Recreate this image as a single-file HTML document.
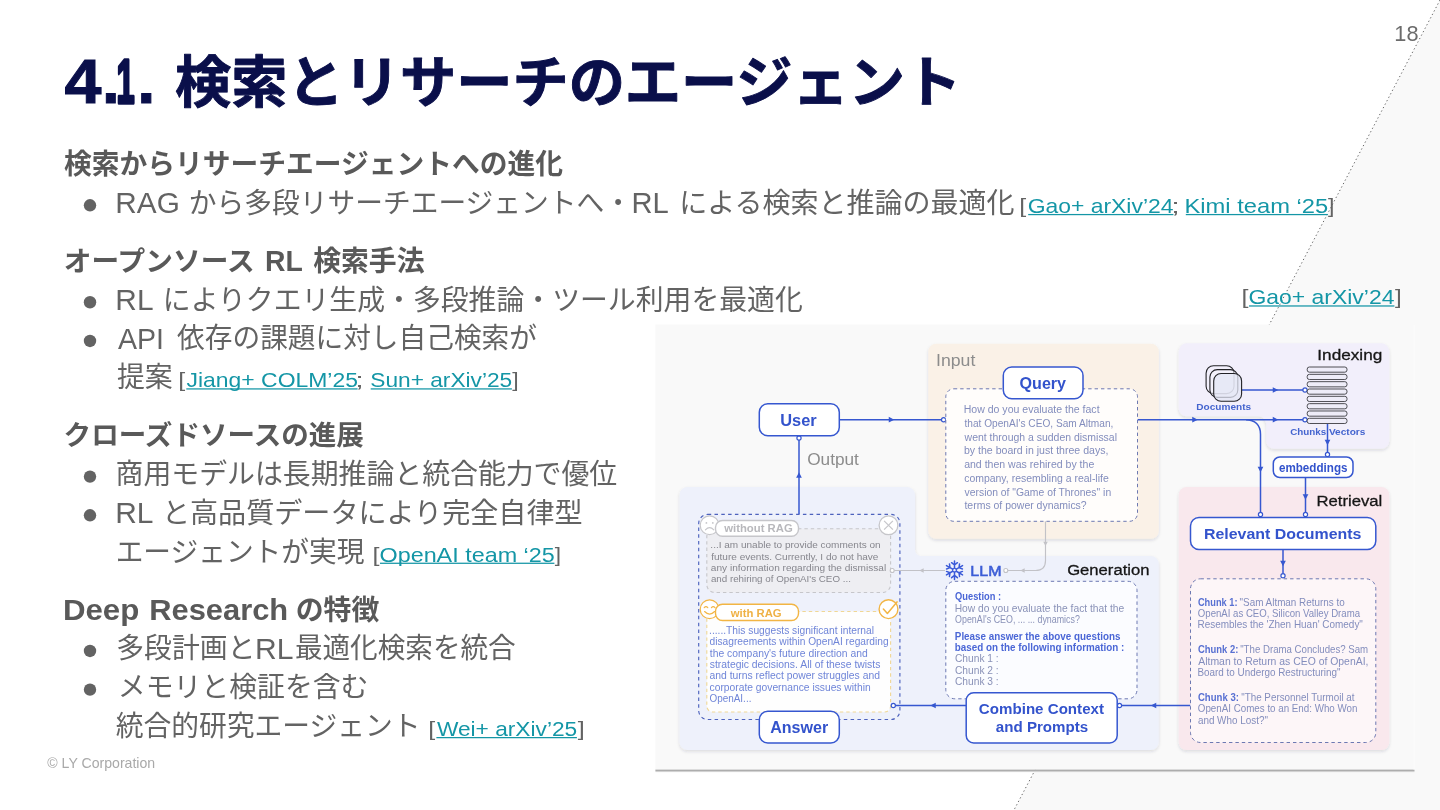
<!DOCTYPE html>
<html lang="ja">
<head>
<meta charset="utf-8">
<title>4.1. 検索とリサーチのエージェント</title>
<style>
html,body{margin:0;padding:0;background:#fff}
body{width:1440px;height:810px;overflow:hidden;position:relative;font-family:"Liberation Sans","Noto Sans CJK JP",sans-serif}
svg{position:absolute;left:0;top:0;width:1440px;height:810px;display:block}
svg text{font-family:"Liberation Sans","Noto Sans CJK JP",sans-serif;white-space:pre}
#slide{will-change:transform}
#figure{filter:blur(.45px)}
#bg .wedge{fill:#f9f9f9}
#bg .cut{stroke:#555;stroke-width:.9;stroke-dasharray:1.3 2.6;fill:none}
</style>
</head>
<body>
<!-- slide background: white sheet with a light wedge on the right, separated by a dotted diagonal -->
<svg id="bg" viewBox="0 0 1440 810" aria-hidden="true">
<polygon class="wedge" points="1440,0 1440,810 1014,810"/>
<line class="cut" x1="1440" y1="0" x2="1014" y2="810"/>
</svg>
<svg id="slide" viewBox="0 0 1440 810">
<defs>
<filter id="psh" x="-5%" y="-5%" width="110%" height="112%"><feDropShadow dx="0" dy="1.6" stdDeviation="1.6" flood-color="#30304a" flood-opacity="0.14"/></filter>
</defs>
<g id="figure">
<rect x="655.4" y="324.5" width="759.1" height="445.2" fill="#f9f9f9"/>
<rect x="655.4" y="769.6" width="759.1" height="1.4" fill="#adadad"/>
<rect x="655.4" y="771" width="759.1" height="1.1" fill="#d2d2d2"/>
<rect x="1413.6" y="325" width="1" height="444.6" fill="#fdfdfd"/>
<g filter="url(#psh)"><rect x="928.3" y="343.7" width="230.5" height="195.1" rx="8" fill="#faf1e7"/><path fill="#f2effb" d="M1186.7 343.3H1381.3a8 8 0 0 1 8 8V440.8a8 8 0 0 1-8 8H1274.3a8 8 0 0 1-8-8V424.3a8 8 0 0 0-8-8H1186.7a8 8 0 0 1-8-8V351.3a8 8 0 0 1 8-8z"/><rect x="1178.7" y="487" width="210.6" height="263" rx="8" fill="#f9e8ed"/><path fill="#eef1fb" d="M687.5 487H907a8 8 0 0 1 8 8V550a6 6 0 0 0 6 6H1150.8a8 8 0 0 1 8 8V742a8 8 0 0 1-8 8H687.5a8 8 0 0 1-8-8V495a8 8 0 0 1 8-8z"/></g>
<rect x="698.7" y="514.4" width="201.2" height="205.1" rx="9" fill="none" stroke="#4d62bd" stroke-width="1.15" stroke-dasharray="3.5 3.3"/><rect x="706.8" y="528.7" width="183.8" height="63.8" rx="8" fill="#eeeef2" stroke="#c6c6ca" stroke-width="1.1" stroke-dasharray="3.4 3"/><circle cx="709.6" cy="525.3" r="9.4" fill="#fff" stroke="#c6c6ca" stroke-width="1.2"/><circle cx="706.4" cy="522.9" r="0.9" fill="#c6c6ca"/><circle cx="712.8" cy="522.9" r="0.9" fill="#c6c6ca"/><path d="M705.4 529.9q4.2-4.6 8.4 0" fill="none" stroke="#c6c6ca" stroke-width="1.1" stroke-linecap="round"/><rect x="715.5" y="520.5" width="83" height="15.7" rx="7" fill="#fff" stroke="#c6c6ca" stroke-width="1.4"/><text x="724.23" y="532" font-size="11.7" textLength="68.47" lengthAdjust="spacingAndGlyphs" font-weight="700" fill="#b8b8bc">without RAG</text><circle cx="888.5" cy="525.3" r="9.4" fill="#fff" stroke="#c6c6ca" stroke-width="1.3"/><path d="M884.1 520.9l8.8 8.8M892.9 520.9l-8.8 8.8" stroke="#c6c6ca" stroke-width="1.2" fill="none"/><text x="710.39" y="548.2" font-size="9.9" textLength="170.26" lengthAdjust="spacingAndGlyphs" fill="#86868d">...I am unable to provide comments on</text><text x="711.16" y="559.6" font-size="9.9" textLength="167.29" lengthAdjust="spacingAndGlyphs" fill="#86868d">future events. Currently, I do not have</text><text x="710.87" y="571" font-size="9.9" textLength="175.3" lengthAdjust="spacingAndGlyphs" fill="#86868d">any information regarding the dismissal</text><text x="710.88" y="582.4" font-size="9.9" textLength="140.01" lengthAdjust="spacingAndGlyphs" fill="#86868d">and rehiring of OpenAI's CEO ...</text><rect x="706.8" y="611.5" width="183.8" height="100.5" rx="6" fill="#fefefe" stroke="#f0d795" stroke-width="1.1" stroke-dasharray="3.4 3"/><circle cx="709.6" cy="609.3" r="9.4" fill="#fff" stroke="#f2b544" stroke-width="1.2"/><path d="M704.2 607.7q1.8-2.2 3.6 0M711.4 607.7q1.8-2.2 3.6 0M704.6 611.5q5 5.2 10 0" fill="none" stroke="#f2b544" stroke-width="1.1" stroke-linecap="round"/><rect x="715.5" y="604.2" width="83" height="16.3" rx="7" fill="#fff" stroke="#f2b544" stroke-width="1.4"/><text x="730.73" y="616.7" font-size="11.7" textLength="50.97" lengthAdjust="spacingAndGlyphs" font-weight="700" fill="#efb144">with RAG</text><circle cx="888.5" cy="609.2" r="9.4" fill="#fff" stroke="#f2b544" stroke-width="1.4"/><path d="M883.4 609l4 4.5 9.6-11.6" stroke="#f2b544" stroke-width="1.5" fill="none" stroke-linecap="round" stroke-linejoin="round"/><text x="709.07" y="633.7" font-size="10" textLength="164.92" lengthAdjust="spacingAndGlyphs" fill="#6f85d8">......This suggests significant internal</text><text x="709.57" y="645.12" font-size="10" textLength="179.09" lengthAdjust="spacingAndGlyphs" fill="#6f85d8">disagreements within OpenAI regarding</text><text x="709.84" y="656.54" font-size="10" textLength="157.82" lengthAdjust="spacingAndGlyphs" fill="#6f85d8">the company's future direction and</text><text x="709.71" y="667.96" font-size="10" textLength="170.66" lengthAdjust="spacingAndGlyphs" fill="#6f85d8">strategic decisions. All of these twists</text><text x="709.56" y="679.38" font-size="10" textLength="170.41" lengthAdjust="spacingAndGlyphs" fill="#6f85d8">and turns reflect power struggles and</text><text x="709.56" y="690.8" font-size="10" textLength="161.1" lengthAdjust="spacingAndGlyphs" fill="#6f85d8">corporate governance issues within</text><text x="709.53" y="702.22" font-size="10" textLength="41.87" lengthAdjust="spacingAndGlyphs" fill="#6f85d8">OpenAI...</text><rect x="759.3" y="711.3" width="80" height="31.7" rx="8.5" fill="#fff" stroke="#3657d0" stroke-width="1.5"/><text x="770.2" y="732.9" font-size="15.6" textLength="58.04" lengthAdjust="spacingAndGlyphs" font-weight="700" fill="#3353cc">Answer</text>
<g fill="none" stroke="#3657d0" stroke-width="1.5"><path d="M839.3 419.7H941.5"/><path d="M1137.5 419.7H1303"/><path d="M1246 419.7c9 0 14.5 5.5 14.5 14.5V512.4"/><path d="M1241.8 390H1303"/><path d="M1327.5 424V452.3"/><path d="M1305.5 477.5V512.4"/><path d="M1283 549.5V573.6"/><path d="M1190.5 705.5H1121.6"/><path d="M966 705.5H895.3"/><path d="M799 514V440.1"/></g><g fill="none" stroke="#c2c2c7" stroke-width="1.15"><path d="M1045.5 521.3V560.5c0 6.5-3.5 10-10 10H1007.8"/><path d="M945 570.5H894.2"/></g><polygon points="894.26,419.7 888.74,416.85 888.74,422.55" fill="#3657d0"/><polygon points="1197.76,419.7 1192.24,416.85 1192.24,422.55" fill="#3657d0"/><polygon points="1278.26,419.7 1272.74,416.85 1272.74,422.55" fill="#3657d0"/><polygon points="1278.26,390 1272.74,387.15 1272.74,392.85" fill="#3657d0"/><polygon points="1260.5,472.26 1257.65,466.74 1263.35,466.74" fill="#3657d0"/><polygon points="1327.5,445.26 1324.65,439.74 1330.35,439.74" fill="#3657d0"/><polygon points="1305.5,499.76 1302.65,494.24 1308.35,494.24" fill="#3657d0"/><polygon points="1283,566.26 1280.15,560.74 1285.85,560.74" fill="#3657d0"/><polygon points="1150.74,705.5 1156.26,702.65 1156.26,708.35" fill="#3657d0"/><polygon points="930.24,705.5 935.76,702.65 935.76,708.35" fill="#3657d0"/><polygon points="799,472.24 796.15,477.76 801.85,477.76" fill="#3657d0"/><polygon points="1045.5,545.96 1043.27,541.64 1047.73,541.64" fill="#c2c2c7"/><polygon points="1020.34,570.5 1024.66,568.27 1024.66,572.73" fill="#c2c2c7"/><polygon points="919.34,570.5 923.66,568.27 923.66,572.73" fill="#c2c2c7"/><circle cx="943.6" cy="419.7" r="2.1" fill="#fff" stroke="#3657d0" stroke-width="1.2"/><circle cx="1305" cy="419.7" r="2.1" fill="#fff" stroke="#3657d0" stroke-width="1.2"/><circle cx="1305" cy="390" r="2.1" fill="#fff" stroke="#3657d0" stroke-width="1.2"/><circle cx="1260.5" cy="514.5" r="2.1" fill="#fff" stroke="#3657d0" stroke-width="1.2"/><circle cx="1327.5" cy="454.4" r="2.1" fill="#fff" stroke="#3657d0" stroke-width="1.2"/><circle cx="1305.5" cy="514.5" r="2.1" fill="#fff" stroke="#3657d0" stroke-width="1.2"/><circle cx="1283" cy="575.7" r="2.1" fill="#fff" stroke="#3657d0" stroke-width="1.2"/><circle cx="1119.5" cy="705.5" r="2.1" fill="#fff" stroke="#3657d0" stroke-width="1.2"/><circle cx="893.3" cy="705.5" r="2.1" fill="#fff" stroke="#3657d0" stroke-width="1.2"/><circle cx="799" cy="438" r="2.1" fill="#fff" stroke="#3657d0" stroke-width="1.2"/><circle cx="1005.8" cy="570.5" r="2" fill="#fff" stroke="#c2c2c7" stroke-width="1.1"/><circle cx="892.2" cy="570.5" r="2" fill="#fff" stroke="#c2c2c7" stroke-width="1.1"/>
<rect x="759.3" y="403.8" width="80" height="32" rx="8.5" fill="#fff" stroke="#3657d0" stroke-width="1.5"/><rect x="1273.3" y="457" width="79.7" height="20.5" rx="6.5" fill="#fff" stroke="#3657d0" stroke-width="1.5"/><rect x="1190.5" y="517.5" width="185.3" height="32" rx="8.5" fill="#fff" stroke="#3657d0" stroke-width="1.5"/>
<text x="780.22" y="425.5" font-size="15.7" textLength="36.43" lengthAdjust="spacingAndGlyphs" font-weight="700" fill="#3353cc">User</text><text x="807.18" y="465" font-size="16.2" textLength="51.74" lengthAdjust="spacingAndGlyphs" fill="#8c8c8c">Output</text>
<text x="935.97" y="366.2" font-size="16.4" textLength="39.36" lengthAdjust="spacingAndGlyphs" fill="#8c8c8c">Input</text><rect x="945.8" y="388.8" width="191.7" height="132.5" rx="8" fill="#fffdfb" stroke="#6572ae" stroke-width="0.95" stroke-dasharray="3.4 3"/><rect x="1003.3" y="367" width="79.7" height="31.8" rx="8.5" fill="#fff" stroke="#3657d0" stroke-width="1.5"/><text x="1019.54" y="388.5" font-size="15.7" textLength="46.55" lengthAdjust="spacingAndGlyphs" font-weight="700" fill="#3353cc">Query</text><text x="963.74" y="413" font-size="10" textLength="135.84" lengthAdjust="spacingAndGlyphs" fill="#838dbd">How do you evaluate the fact</text><text x="964.45" y="426.75" font-size="10" textLength="148.96" lengthAdjust="spacingAndGlyphs" fill="#838dbd">that OpenAI's CEO, Sam Altman,</text><text x="964.62" y="440.5" font-size="10" textLength="152.38" lengthAdjust="spacingAndGlyphs" fill="#838dbd">went through a sudden dismissal</text><text x="963.92" y="454.25" font-size="10" textLength="144.53" lengthAdjust="spacingAndGlyphs" fill="#838dbd">by the board in just three days,</text><text x="964.15" y="468" font-size="10" textLength="130.12" lengthAdjust="spacingAndGlyphs" fill="#838dbd">and then was rehired by the</text><text x="964.16" y="481.75" font-size="10" textLength="144.6" lengthAdjust="spacingAndGlyphs" fill="#838dbd">company, resembling a real-life</text><text x="964.56" y="495.5" font-size="10" textLength="146.61" lengthAdjust="spacingAndGlyphs" fill="#838dbd">version of "Game of Thrones" in</text><text x="964.44" y="509.25" font-size="10" textLength="122.25" lengthAdjust="spacingAndGlyphs" fill="#838dbd">terms of power dynamics?</text>
<text x="1317.31" y="359.5" font-size="15.4" textLength="64.99" lengthAdjust="spacingAndGlyphs" fill="#161616" stroke="#161616" stroke-width="0.3">Indexing</text><rect x="1206.1" y="365.8" width="27.9" height="27.8" rx="7.4" fill="none" fill-opacity="1" stroke="#222226" stroke-width="1.1"/><rect x="1209.9" y="369.6" width="27.9" height="27.8" rx="7.4" fill="#f4f2fc" fill-opacity="0.55" stroke="#222226" stroke-width="1.1"/><rect x="1213.7" y="373.5" width="27.9" height="27.8" rx="7.4" fill="#e3e6f4" fill-opacity="0.76" stroke="#222226" stroke-width="1.1"/><text x="1196.33" y="410.2" font-size="9.5" textLength="54.79" lengthAdjust="spacingAndGlyphs" font-weight="700" fill="#4464cf">Documents</text><rect x="1307.2" y="367" width="39.8" height="5.2" rx="2.2" fill="#eeecf8" stroke="#3c3c42" stroke-width="0.9"/><rect x="1307.2" y="374.33" width="39.8" height="5.2" rx="2.2" fill="#eeecf8" stroke="#3c3c42" stroke-width="0.9"/><rect x="1307.2" y="381.66" width="39.8" height="5.2" rx="2.2" fill="#eeecf8" stroke="#3c3c42" stroke-width="0.9"/><rect x="1307.2" y="388.99" width="39.8" height="5.2" rx="2.2" fill="#eeecf8" stroke="#3c3c42" stroke-width="0.9"/><rect x="1307.2" y="396.32" width="39.8" height="5.2" rx="2.2" fill="#eeecf8" stroke="#3c3c42" stroke-width="0.9"/><rect x="1307.2" y="403.65" width="39.8" height="5.2" rx="2.2" fill="#eeecf8" stroke="#3c3c42" stroke-width="0.9"/><rect x="1307.2" y="410.98" width="39.8" height="5.2" rx="2.2" fill="#eeecf8" stroke="#3c3c42" stroke-width="0.9"/><rect x="1307.2" y="418.31" width="39.8" height="5.2" rx="2.2" fill="#eeecf8" stroke="#3c3c42" stroke-width="0.9"/><text x="1290.2" y="435" font-size="9.5" textLength="36.01" lengthAdjust="spacingAndGlyphs" font-weight="700" fill="#4464cf">Chunks</text><text x="1328.93" y="435" font-size="9.5" textLength="36.48" lengthAdjust="spacingAndGlyphs" font-weight="700" fill="#4464cf">Vectors</text><text x="1278.95" y="471.6" font-size="12.2" textLength="68.53" lengthAdjust="spacingAndGlyphs" font-weight="700" fill="#3353cc">embeddings</text>
<text x="1316.43" y="505.5" font-size="15.4" textLength="65.89" lengthAdjust="spacingAndGlyphs" fill="#161616" stroke="#161616" stroke-width="0.3">Retrieval</text><text x="1203.93" y="539.2" font-size="14.5" textLength="157.52" lengthAdjust="spacingAndGlyphs" font-weight="700" fill="#3353cc">Relevant Documents</text><rect x="1190.5" y="578.8" width="185.3" height="163.7" rx="10" fill="#fdf6f8" stroke="#6572ae" stroke-width="0.95" stroke-dasharray="3.4 3"/><text x="1197.92" y="605.6" font-size="10.1" textLength="39.57" lengthAdjust="spacingAndGlyphs" font-weight="700" fill="#5870d2">Chunk 1:</text><text x="1239.58" y="605.6" font-size="10.1" textLength="105.13" lengthAdjust="spacingAndGlyphs" fill="#838dbd">"Sam Altman Returns to</text><text x="1197.85" y="617" font-size="10.1" textLength="162.15" lengthAdjust="spacingAndGlyphs" fill="#838dbd">OpenAI as CEO, Silicon Valley Drama</text><text x="1197.48" y="628.4" font-size="10.1" textLength="165.44" lengthAdjust="spacingAndGlyphs" fill="#838dbd">Resembles the 'Zhen Huan' Comedy"</text><text x="1197.91" y="653.2" font-size="10.1" textLength="40.4" lengthAdjust="spacingAndGlyphs" font-weight="700" fill="#5870d2">Chunk 2:</text><text x="1240.19" y="653.2" font-size="10.1" textLength="127.95" lengthAdjust="spacingAndGlyphs" fill="#838dbd">"The Drama Concludes? Sam</text><text x="1198.28" y="664.6" font-size="10.1" textLength="170.16" lengthAdjust="spacingAndGlyphs" fill="#838dbd">Altman to Return as CEO of OpenAI,</text><text x="1197.49" y="676" font-size="10.1" textLength="142.93" lengthAdjust="spacingAndGlyphs" fill="#838dbd">Board to Undergo Restructuring"</text><text x="1197.91" y="700.8" font-size="10.1" textLength="41.02" lengthAdjust="spacingAndGlyphs" font-weight="700" fill="#5870d2">Chunk 3:</text><text x="1241.18" y="700.8" font-size="10.1" textLength="113.39" lengthAdjust="spacingAndGlyphs" fill="#838dbd">"The Personnel Turmoil at</text><text x="1197.84" y="712.2" font-size="10.1" textLength="159.6" lengthAdjust="spacingAndGlyphs" fill="#838dbd">OpenAI Comes to an End: Who Won</text><text x="1197.88" y="723.6" font-size="10.1" textLength="70.04" lengthAdjust="spacingAndGlyphs" fill="#838dbd">and Who Lost?"</text>
<path d="M956.32 571.25L962.55 574.85M959.01 572.8L962.46 571.41M959.01 572.8L959.53 576.49M954.5 572.3L954.5 579.5M954.5 575.41L957.43 577.7M954.5 575.41L951.57 577.7M952.68 571.25L946.45 574.85M949.99 572.8L949.47 576.49M949.99 572.8L946.54 571.41M952.68 569.15L946.45 565.55M949.99 567.6L946.54 568.99M949.99 567.6L949.47 563.91M954.5 568.1L954.5 560.9M954.5 564.99L951.57 562.7M954.5 564.99L957.43 562.7M956.32 569.15L962.55 565.55M959.01 567.6L959.53 563.91M959.01 567.6L962.46 568.99" fill="none" stroke="#3a5ad8" stroke-width="1.5" stroke-linecap="round"/><polygon points="956.32,571.25 954.5,572.3 952.68,571.25 952.68,569.15 954.5,568.1 956.32,569.15" fill="none" stroke="#3a5ad8" stroke-width="1.1"/><text x="970.39" y="575.5" font-size="14.8" textLength="31.13" lengthAdjust="spacingAndGlyphs" fill="#3c5dd6" stroke="#3c5dd6" stroke-width="0.55">LLM</text><text x="1067.16" y="574.7" font-size="15.4" textLength="82.32" lengthAdjust="spacingAndGlyphs" fill="#161616" stroke="#161616" stroke-width="0.3">Generation</text><rect x="945.8" y="581.3" width="191.2" height="117.5" rx="9" fill="#fbfcff" stroke="#6572ae" stroke-width="0.95" stroke-dasharray="3.4 3"/><text x="955.12" y="600.4" font-size="10.2" textLength="45.98" lengthAdjust="spacingAndGlyphs" font-weight="700" fill="#4a66d6">Question :</text><text x="954.66" y="611.8" font-size="10.6" textLength="169.6" lengthAdjust="spacingAndGlyphs" fill="#8a92b8">How do you evaluate the fact that the</text><text x="955.08" y="623" font-size="10.6" textLength="124.75" lengthAdjust="spacingAndGlyphs" fill="#8a92b8">OpenAI's CEO, ... ... dynamics?</text><text x="954.84" y="639.5" font-size="10.2" textLength="165.56" lengthAdjust="spacingAndGlyphs" font-weight="700" fill="#4a66d6">Please answer the above questions</text><text x="954.85" y="650.8" font-size="10.2" textLength="169.39" lengthAdjust="spacingAndGlyphs" font-weight="700" fill="#4a66d6">based on the following information :</text><text x="954.98" y="662.4" font-size="10.6" textLength="43.75" lengthAdjust="spacingAndGlyphs" fill="#8a92b8">Chunk 1 :</text><text x="954.98" y="673.7" font-size="10.6" textLength="43.75" lengthAdjust="spacingAndGlyphs" fill="#8a92b8">Chunk 2 :</text><text x="954.98" y="685" font-size="10.6" textLength="43.75" lengthAdjust="spacingAndGlyphs" fill="#8a92b8">Chunk 3 :</text><rect x="966.2" y="692.8" width="151" height="50.1" rx="7.5" fill="#fff" stroke="#3657d0" stroke-width="1.5"/><text x="978.88" y="714.4" font-size="13.9" textLength="125.1" lengthAdjust="spacingAndGlyphs" font-weight="700" fill="#3353cc">Combine Context</text><text x="995.86" y="732.2" font-size="13.9" textLength="92.26" lengthAdjust="spacingAndGlyphs" font-weight="700" fill="#3353cc">and Prompts</text>
</g>
<g id="text">
<g id="title" fill="#0a0f4a">
<text x="64.59" y="102.8" font-size="63.5" textLength="36.96" lengthAdjust="spacingAndGlyphs" font-weight="700" stroke="#0a0f4a" stroke-width="1" paint-order="stroke">4</text>
<text x="102.07" y="102.8" font-size="63.5" textLength="17.72" lengthAdjust="spacingAndGlyphs" font-weight="700" stroke="#0a0f4a" stroke-width="1" paint-order="stroke">.</text>
<text x="116.54" y="102.8" font-size="63.5" textLength="18.17" lengthAdjust="spacingAndGlyphs" font-weight="700" stroke="#0a0f4a" stroke-width="3.4" stroke-linejoin="round" paint-order="stroke">1</text>
<text x="137.18" y="102.8" font-size="63.5" textLength="18.11" lengthAdjust="spacingAndGlyphs" font-weight="700" stroke="#0a0f4a" stroke-width="1" paint-order="stroke">.</text>
<g stroke="#0a0f4a" stroke-width="0.9" stroke-linejoin="round">
<text x="174.98" y="101.6" font-size="55.6" font-weight="700" textLength="786.21" lengthAdjust="spacingAndGlyphs" paint-order="stroke">検索とリサーチのエージェント</text>
</g>
</g>
<text x="1394.34" y="41.2" font-size="22" textLength="24.2" lengthAdjust="spacingAndGlyphs" fill="#6c6c6c">18</text>
<g id="sec1">
<text x="63.89" y="174.1" font-size="27.85" font-weight="700" fill="#595959" textLength="499.25" lengthAdjust="spacingAndGlyphs">検索からリサーチエージェントへの進化</text>
<circle cx="90" cy="205.3" r="6.2" fill="#636363"/>
<text x="115.36" y="212.9" font-size="29.4" textLength="64.46" lengthAdjust="spacingAndGlyphs" fill="#636363">RAG</text>
<text x="188.83" y="212.8" font-size="27.85" fill="#636363" textLength="443.11" lengthAdjust="spacingAndGlyphs">から多段リサーチエージェントへ・</text>
<text x="631.51" y="212.9" font-size="29.4" textLength="37.26" lengthAdjust="spacingAndGlyphs" fill="#636363">RL</text>
<text x="679.25" y="212.8" font-size="27.85" fill="#636363" textLength="335.37" lengthAdjust="spacingAndGlyphs">による検索と推論の最適化</text>
<text x="1019.21" y="212.9" font-size="20.3" textLength="6.99" lengthAdjust="spacingAndGlyphs" fill="#636363">[</text><text x="1027.65" y="212.9" font-size="20.3" textLength="145.82" lengthAdjust="spacingAndGlyphs" fill="#1496a6">Gao+ arXiv’24</text><rect x="1028.2" y="213.95" width="145.2" height="1.25" fill="#1496a6"/><text x="1171.25" y="212.9" font-size="20.3" textLength="8.49" lengthAdjust="spacingAndGlyphs" fill="#636363">;</text><text x="1184.45" y="212.9" font-size="20.3" textLength="143.74" lengthAdjust="spacingAndGlyphs" fill="#1496a6">Kimi team ‘25</text><rect x="1185.8" y="213.95" width="142" height="1.25" fill="#1496a6"/><text x="1328.02" y="212.9" font-size="20.3" textLength="6.43" lengthAdjust="spacingAndGlyphs" fill="#636363">]</text>
</g>
<g id="sec2">
<text x="63.86" y="271.05" font-size="27.4" font-weight="700" fill="#595959" textLength="190.81" lengthAdjust="spacingAndGlyphs">オープンソース</text>
<text x="265" y="271.15" font-size="29.2" textLength="37.77" lengthAdjust="spacingAndGlyphs" font-weight="700" fill="#595959">RL</text>
<text x="313.14" y="271.05" font-size="27.85" font-weight="700" fill="#595959" textLength="111.36" lengthAdjust="spacingAndGlyphs">検索手法</text>
<circle cx="90" cy="302.25" r="6.2" fill="#636363"/>
<text x="115.35" y="309.85" font-size="29.4" textLength="38.14" lengthAdjust="spacingAndGlyphs" fill="#636363">RL</text>
<text x="162.8" y="309.75" font-size="27.85" fill="#636363" textLength="640.02" lengthAdjust="spacingAndGlyphs">によりクエリ生成・多段推論・ツール利用を最適化</text>
<circle cx="90" cy="340.95" r="6.2" fill="#636363"/>
<text x="117.94" y="348.55" font-size="29.4" textLength="45.99" lengthAdjust="spacingAndGlyphs" fill="#636363">API</text>
<text x="177.08" y="348.45" font-size="27.85" fill="#636363" textLength="359.89" lengthAdjust="spacingAndGlyphs">依存の課題に対し自己検索が</text>
<text x="116.94" y="387.15" font-size="27.85" fill="#636363" textLength="55.7" lengthAdjust="spacingAndGlyphs">提案</text>
<text x="178.21" y="387.25" font-size="20.3" textLength="6.99" lengthAdjust="spacingAndGlyphs" fill="#636363">[</text><text x="186.54" y="387.25" font-size="20.3" textLength="171.42" lengthAdjust="spacingAndGlyphs" fill="#1496a6">Jiang+ COLM’25</text><rect x="186.3" y="388.3" width="171.3" height="1.25" fill="#1496a6"/><text x="355.25" y="387.25" font-size="20.3" textLength="8.49" lengthAdjust="spacingAndGlyphs" fill="#636363">;</text><text x="370.27" y="387.25" font-size="20.3" textLength="141.98" lengthAdjust="spacingAndGlyphs" fill="#1496a6">Sun+ arXiv’25</text><rect x="370.7" y="388.3" width="141.2" height="1.25" fill="#1496a6"/><text x="512.22" y="387.25" font-size="20.3" textLength="6.43" lengthAdjust="spacingAndGlyphs" fill="#636363">]</text>
</g>
<text x="1241.41" y="304.3" font-size="20.3" textLength="6.99" lengthAdjust="spacingAndGlyphs" fill="#636363">[</text><text x="1248.45" y="304.3" font-size="20.3" textLength="146.03" lengthAdjust="spacingAndGlyphs" fill="#1496a6">Gao+ arXiv’24</text><rect x="1249" y="305.35" width="145.4" height="1.25" fill="#1496a6"/><text x="1395.01" y="304.3" font-size="20.3" textLength="6.71" lengthAdjust="spacingAndGlyphs" fill="#636363">]</text>
<g id="sec3">
<text x="63.58" y="445.4" font-size="27.4" font-weight="700" fill="#595959" textLength="300.27" lengthAdjust="spacingAndGlyphs">クローズドソースの進展</text>
<circle cx="90" cy="476.6" r="6.2" fill="#636363"/>
<text x="115.58" y="484.1" font-size="27.85" fill="#636363" textLength="501.65" lengthAdjust="spacingAndGlyphs">商用モデルは長期推論と統合能力で優位</text>
<circle cx="90" cy="515.3" r="6.2" fill="#636363"/>
<text x="115.25" y="522.9" font-size="29.4" textLength="38.25" lengthAdjust="spacingAndGlyphs" fill="#636363">RL</text>
<text x="161.9" y="522.8" font-size="27.85" fill="#636363" textLength="420.68" lengthAdjust="spacingAndGlyphs">と高品質データにより完全自律型</text>
<text x="115.66" y="561.5" font-size="27.85" fill="#636363" textLength="248.79" lengthAdjust="spacingAndGlyphs">エージェントが実現</text>
<text x="372.61" y="561.6" font-size="20.3" textLength="6.99" lengthAdjust="spacingAndGlyphs" fill="#636363">[</text><text x="379.49" y="561.6" font-size="20.3" textLength="175.29" lengthAdjust="spacingAndGlyphs" fill="#1496a6">OpenAI team ‘25</text><rect x="380" y="562.65" width="174.4" height="1.25" fill="#1496a6"/><text x="554.82" y="561.6" font-size="20.3" textLength="6.29" lengthAdjust="spacingAndGlyphs" fill="#636363">]</text>
</g>
<g id="sec4">
<text x="62.91" y="619.85" font-size="29.2" textLength="76.37" lengthAdjust="spacingAndGlyphs" font-weight="700" fill="#595959">Deep</text>
<text x="149.24" y="619.85" font-size="29.2" textLength="138.98" lengthAdjust="spacingAndGlyphs" font-weight="700" fill="#595959">Research</text>
<text x="295.72" y="619.75" font-size="27.85" font-weight="700" fill="#595959" textLength="83.55" lengthAdjust="spacingAndGlyphs">の特徴</text>
<circle cx="90" cy="650.95" r="6.2" fill="#636363"/>
<text x="116.19" y="658.45" font-size="27.85" fill="#636363" textLength="139.25" lengthAdjust="spacingAndGlyphs">多段計画と</text>
<text x="255.03" y="658.55" font-size="29.4" textLength="38.47" lengthAdjust="spacingAndGlyphs" fill="#636363">RL</text>
<text x="294.89" y="658.45" font-size="27.85" fill="#636363" textLength="220.84" lengthAdjust="spacingAndGlyphs">最適化検索を統合</text>
<circle cx="90" cy="689.65" r="6.2" fill="#636363"/>
<text x="117.83" y="697.15" font-size="27.85" fill="#636363" textLength="250.6" lengthAdjust="spacingAndGlyphs">メモリと検証を含む</text>
<text x="115.7" y="735.85" font-size="27.85" fill="#636363" textLength="304.81" lengthAdjust="spacingAndGlyphs">統合的研究エージェント</text>
<text x="428.21" y="735.95" font-size="20.3" textLength="6.99" lengthAdjust="spacingAndGlyphs" fill="#636363">[</text><text x="436.9" y="735.95" font-size="20.3" textLength="140.35" lengthAdjust="spacingAndGlyphs" fill="#1496a6">Wei+ arXiv’25</text><rect x="436.4" y="737" width="140.5" height="1.25" fill="#1496a6"/><text x="577.8" y="735.95" font-size="20.3" textLength="6.99" lengthAdjust="spacingAndGlyphs" fill="#636363">]</text>
</g>
<text x="47.29" y="768.2" font-size="14.3" textLength="107.92" lengthAdjust="spacingAndGlyphs" fill="#a9a9a9">© LY Corporation</text>
</g>
</svg>
</body>
</html>
